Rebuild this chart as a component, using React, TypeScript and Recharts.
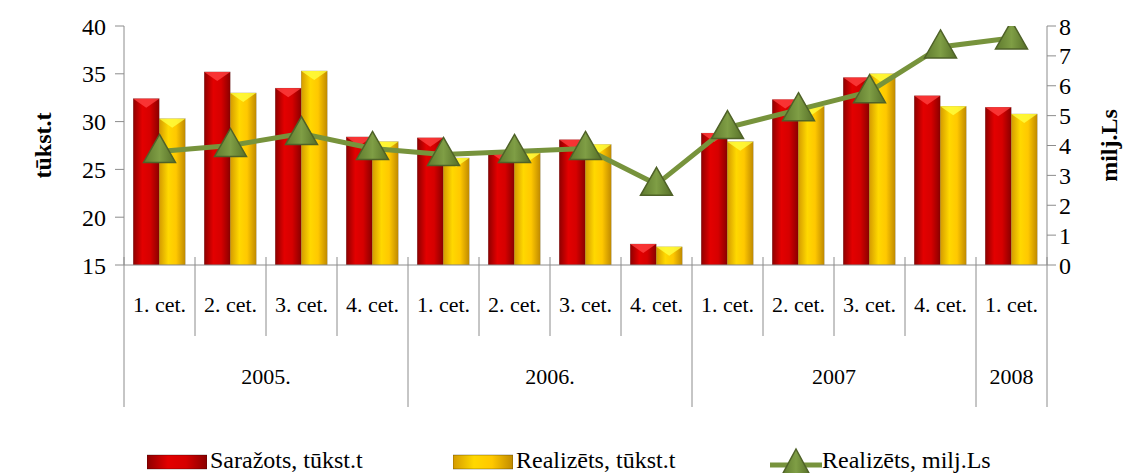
import React from 'react';
import { ComposedChart, Bar, Line, XAxis, YAxis } from 'recharts';

const quarters = [
  '1. cet.', '2. cet.', '3. cet.', '4. cet.',
  '1. cet.', '2. cet.', '3. cet.', '4. cet.',
  '1. cet.', '2. cet.', '3. cet.', '4. cet.',
  '1. cet.',
];
const yearLabels = ['2005.', '2006.', '2007', '2008'];
const yearSpans = [4, 4, 4, 1];

const produced = [32.4, 35.2, 33.5, 28.4, 28.3, 26.9, 28.1, 17.2, 28.8, 32.3, 34.6, 32.7, 31.5];
const soldTonnes = [30.3, 33.0, 35.3, 27.9, 26.2, 26.7, 27.6, 16.9, 27.9, 31.6, 35.0, 31.6, 30.8];
const soldLs = [3.8, 4.0, 4.4, 3.9, 3.7, 3.8, 3.9, 2.7, 4.6, 5.2, 5.8, 7.3, 7.6];

const leftTicks = [15, 20, 25, 30, 35, 40];
const rightTicks = [0, 1, 2, 3, 4, 5, 6, 7, 8];

const FONT = 'Liberation Serif, DejaVu Serif, serif';
const AXIS = '#8c8c8c';

// which category starts a year group
const yearStarts: Record<number, number> = {};
{
  let i = 0;
  yearSpans.forEach((s, k) => {
    yearStarts[i] = k;
    i += s;
  });
}

const data = quarters.map((q, i) => ({
  q,
  produced: produced[i],
  soldT: soldTonnes[i],
  soldLs: soldLs[i],
}));

const CategoryTick = (props: any) => {
  const { x, y, payload, index } = props;
  const half = payload && payload.offset ? payload.offset : 35.5;
  const yk = yearStarts[index];
  const last = index === quarters.length - 1;
  return (
    <g>
      <line x1={x - half} y1={y - 8} x2={x - half} y2={yk !== undefined ? y + 142 : y + 71} stroke={AXIS} />
      {last && <line x1={x + half} y1={y - 8} x2={x + half} y2={y + 142} stroke={AXIS} />}
      <text x={x} y={y + 47} textAnchor="middle" fontSize={22} fontFamily={FONT} fill="#000">
        {quarters[index]}
      </text>
      {yk !== undefined && (
        <text
          x={x - half + yearSpans[yk] * half}
          y={y + 119}
          textAnchor="middle"
          fontSize={22}
          fontFamily={FONT}
          fill="#000"
        >
          {yearLabels[yk]}
        </text>
      )}
    </g>
  );
};

const BevelBar = (color: string, light: string) => (props: any) => {
  const { x, y, width, height } = props;
  if (!height || height <= 0) return null;
  const b = Math.min(9, height / 2);
  return (
    <g>
      <rect x={x} y={y} width={width} height={height} fill={`url(#grad-${color})`} stroke="rgba(0,0,0,0.25)" strokeWidth={0.5} />
      <polygon points={`${x},${y} ${x + width},${y} ${x + width / 2},${y + b}`} fill={light} opacity={0.8} />
    </g>
  );
};

const RedBar = BevelBar('red', '#ff4040');
const YellowBar = BevelBar('yellow', '#ffff40');

const TriangleDot = (props: any) => {
  const { cx, cy } = props;
  if (cx == null || cy == null) return null;
  return (
    <polygon
      key={`t-${cx}`}
      points={`${cx},${cy - 17} ${cx + 16},${cy + 11} ${cx - 16},${cy + 11}`}
      fill="url(#grad-green)"
      stroke="#4f6228"
      strokeWidth={1.5}
    />
  );
};

const axisTitle = (text: string, dx: number) => (props: any) => {
  const vb = props.viewBox;
  const cx = vb.x + dx;
  const cy = vb.y + vb.height / 2;
  return (
    <text
      x={cx}
      y={cy}
      transform={`rotate(-90, ${cx}, ${cy})`}
      textAnchor="middle"
      dominantBaseline="middle"
      fontSize={24}
      fontWeight="bold"
      fontFamily={FONT}
      fill="#000"
    >
      {text}
    </text>
  );
};

const legendBox = (grad: string) => (
  <svg width={60} height={16} style={{ verticalAlign: 'middle' }}>
    <rect x={0} y={1} width={60} height={14} fill={`url(#${grad})`} stroke="rgba(0,0,0,0.3)" />
  </svg>
);

const App = () => {
  return (
    <div style={{ position: 'absolute', left: 0, top: 0, width: 1129, height: 473, background: '#fff', overflow: 'hidden', fontFamily: FONT }}>
      <svg width={0} height={0} style={{ position: 'absolute' }}>
        <defs>
          <linearGradient id="grad-red" x1="0" y1="0" x2="1" y2="0">
            <stop offset="0%" stopColor="#8e0000" />
            <stop offset="35%" stopColor="#e30000" />
            <stop offset="65%" stopColor="#d60000" />
            <stop offset="100%" stopColor="#8a0000" />
          </linearGradient>
          <linearGradient id="grad-yellow" x1="0" y1="0" x2="1" y2="0">
            <stop offset="0%" stopColor="#d49a00" />
            <stop offset="35%" stopColor="#ffd800" />
            <stop offset="65%" stopColor="#ffc800" />
            <stop offset="100%" stopColor="#c08a00" />
          </linearGradient>
          <linearGradient id="grad-green" x1="0" y1="0" x2="1" y2="0">
            <stop offset="0%" stopColor="#5f7a2e" />
            <stop offset="50%" stopColor="#7f9e45" />
            <stop offset="100%" stopColor="#566f28" />
          </linearGradient>
        </defs>
      </svg>
      <ComposedChart
        width={1129}
        height={473}
        data={data}
        margin={{ top: 26, right: 0, left: 0, bottom: 66 }}
        barCategoryGap="13%"
        barGap={0}
      >
        <XAxis
          dataKey="q"
          height={142}
          interval={0}
          tickSize={0}
          tickMargin={0}
          tickLine={false}
          axisLine={{ stroke: AXIS }}
          tick={<CategoryTick />}
        />
        <YAxis
          yAxisId="left"
          width={124}
          domain={[15, 40]}
          ticks={leftTicks}
          interval={0}
          allowDataOverflow
          axisLine={{ stroke: AXIS }}
          tickLine={{ stroke: AXIS }}
          tickSize={9}
          tickMargin={9}
          tick={{ fill: '#000', fontSize: 24, fontFamily: FONT }}
          label={{ content: axisTitle('tūkst.t', 45) }}
        />
        <YAxis
          yAxisId="right"
          orientation="right"
          width={82}
          domain={[0, 8]}
          ticks={rightTicks}
          interval={0}
          allowDataOverflow
          axisLine={{ stroke: AXIS }}
          tickLine={{ stroke: AXIS }}
          tickSize={9}
          tickMargin={3}
          tick={{ fill: '#000', fontSize: 24, fontFamily: FONT }}
          label={{ content: axisTitle('milj.Ls', 64) }}
        />
        <Bar yAxisId="left" dataKey="produced" name="Saražots, tūkst.t" shape={<RedBar />} isAnimationActive={false} />
        <Bar yAxisId="left" dataKey="soldT" name="Realizēts, tūkst.t" shape={<YellowBar />} isAnimationActive={false} />
        <Line
          yAxisId="right"
          dataKey="soldLs"
          name="Realizēts, milj.Ls"
          stroke="#77933c"
          strokeWidth={5}
          dot={<TriangleDot />}
          activeDot={false}
          isAnimationActive={false}
        />
      </ComposedChart>
      <div style={{ position: 'absolute', top: 447, left: 0, width: 1129, fontFamily: FONT, fontSize: 24, color: '#000', whiteSpace: 'nowrap' }}>
        <span style={{ position: 'absolute', left: 147 }}>
          {legendBox('grad-red')}
          <span style={{ marginLeft: 3 }}>Saražots, tūkst.t</span>
        </span>
        <span style={{ position: 'absolute', left: 453 }}>
          {legendBox('grad-yellow')}
          <span style={{ marginLeft: 3 }}>Realizēts, tūkst.t</span>
        </span>
        <span style={{ position: 'absolute', left: 770 }}>
          <svg width={52} height={30} style={{ verticalAlign: 'middle' }}>
            <line x1={0} y1={18} x2={52} y2={18} stroke="#77933c" strokeWidth={5} />
            <polygon points="26,2 40,28 12,28" fill="url(#grad-green)" stroke="#4f6228" strokeWidth={1.5} />
          </svg>
          <span style={{ marginLeft: 0 }}>Realizēts, milj.Ls</span>
        </span>
      </div>
    </div>
  );
};

export default App;
